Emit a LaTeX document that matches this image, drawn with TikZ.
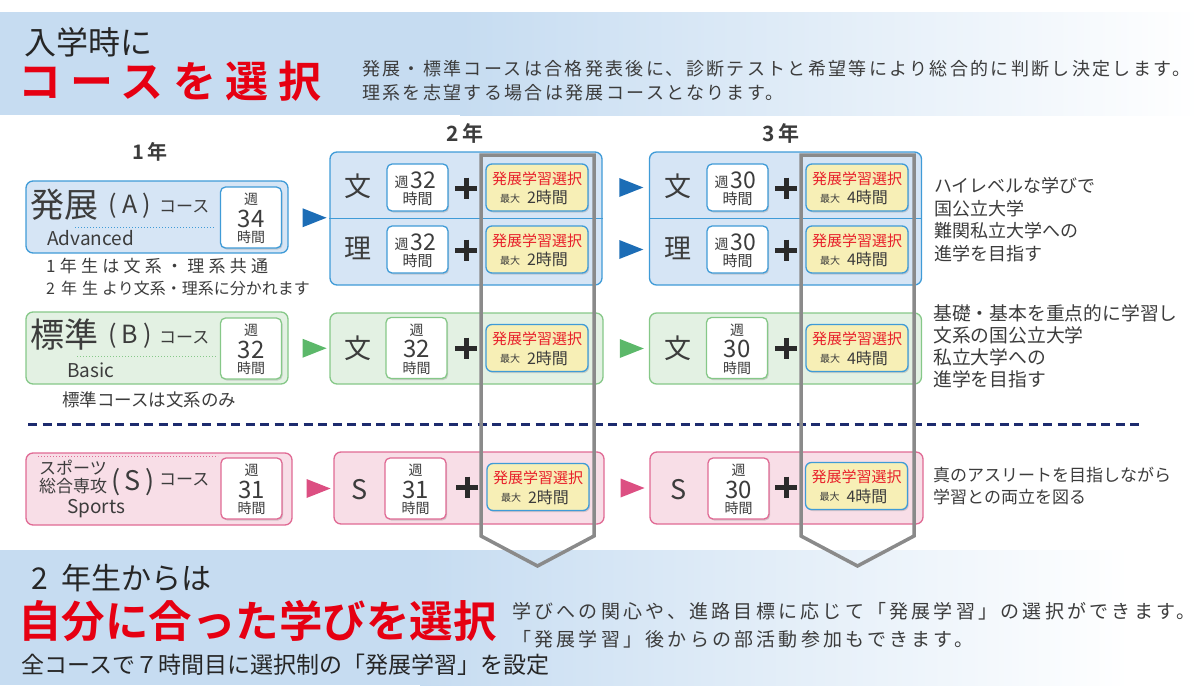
\documentclass[tikz,border=0pt]{standalone}
\usepackage{fontspec}
\setmainfont{Noto Sans CJK JP}[BoldFont={Noto Sans CJK JP Bold}]
\usetikzlibrary{shapes.geometric,shadows,calc}

\definecolor{bannerblue}{HTML}{C6DCF1}
\definecolor{titlered}{HTML}{E60012}
\definecolor{selred}{HTML}{E8202A}
\definecolor{ink}{HTML}{3C3C3C}
\definecolor{fillA}{HTML}{D6E5F5}
\definecolor{lineA}{HTML}{3F9BD7}
\definecolor{fillB}{HTML}{E3F1E3}
\definecolor{lineB}{HTML}{86C888}
\definecolor{fillS}{HTML}{F8DEE7}
\definecolor{lineS}{HTML}{E06A94}
\definecolor{arrA}{HTML}{1C6DB6}
\definecolor{arrB}{HTML}{5CB86A}
\definecolor{arrS}{HTML}{DC4F82}
\definecolor{selfill}{HTML}{F7EFB6}
\definecolor{navy}{HTML}{1D2B6E}
\definecolor{frame}{HTML}{8A8A8A}
\definecolor{plusink}{HTML}{2A2A2A}

\newcommand\fsz[1]{\fontsize{#1}{#1}\selectfont}

% week box, stacked: name, x, y, hours, border colour
\newcommand\weekstack[5]{%
  \node[weekbox, draw=#5, minimum height=61pt] (#1) at (#2,#3) {};
  \node[txt, font=\fsz{14}] (#1-w) at (#2,#3-18) {週};
  \node[txt, font=\fsz{24}] (#1-n) at (#2,#3+1) {#4};
  \node[txt, font=\fsz{14}] (#1-h) at (#2,#3+20) {時間};
}
% week box, one line: name, x, y, hours
\newcommand\weekline[4]{%
  \node[weekbox, draw=lineA, minimum height=47pt] (#1) at (#2,#3) {};
  \node[txt, font=\fsz{14}] (#1-w) at (#2-16,#3-5.5) {週};
  \node[txt, font=\fsz{23}] (#1-n) at (#2+5.5,#3-7) {#4};
  \node[txt, font=\fsz{15}] (#1-h) at (#2,#3+11) {時間};
}
% elective box: name, x, y, max hours
\newcommand\selbox[4]{%
  \node[selbox] (#1) at (#2,#3) {};
  \node[txt, font=\fsz{15}, text=selred] (#1-t) at (#2,#3-9) {発展学習選択};
  \node[txt, font=\fsz{10}] (#1-m) at (#2-27,#3+11) {最大};
  \node[txt, font=\fsz{16}] (#1-h) at (#2+10.5,#3+10) {#4時間};
}
% plus sign: x, y
\newcommand\plusmark[2]{%
  \draw[plus] (#1-11,#2) -- (#1+11,#2) (#1,#2-10.5) -- (#1,#2+10.5);
}

\begin{document}
\begin{tikzpicture}[x=1pt, y=-1pt,
    txt/.style={inner sep=0pt, text=ink},
    course/.style={rectangle, rounded corners=7pt, line width=1.3pt, inner sep=0pt},
    weekbox/.style={rectangle, rounded corners=5pt, line width=1.3pt, fill=white,
      minimum width=61pt, inner sep=0pt,
      drop shadow={shadow xshift=1.2pt, shadow yshift=-1.5pt, opacity=.3}},
    selbox/.style={rectangle, rounded corners=6pt, line width=1.3pt, fill=selfill, draw=lineA,
      minimum width=102pt, minimum height=47pt, inner sep=0pt,
      drop shadow={shadow xshift=1.2pt, shadow yshift=-1.5pt, opacity=.3}},
    tri/.style={isosceles triangle, isosceles triangle stretches, minimum width=19pt,
      minimum height=24pt, inner sep=0pt},
    plus/.style={line width=5pt, draw=plusink},
    bracket/.style={draw=frame, line width=3.5pt, line join=miter},
    dotline/.style={dotted, line width=1pt}]
  \useasboundingbox (0,0) rectangle (1200,691);

  % Top banner
  \fill[bannerblue] (0,12) rectangle (460,115);
  \shade[left color=bannerblue, right color=white] (460,12) rectangle (1200,115);
  \node[txt, anchor=west, font=\fsz{32}, text=black!85] (intro) at (24,42) {入学時に};
  \node[txt, anchor=west, font=\fsz{43}\bfseries\addfontfeature{LetterSpace=22}, text=titlered]
    (pick) at (18,81) {コースを選択};
  \node[txt, anchor=west, align=left, font=\fontsize{18}{24}\selectfont\addfontfeature{LetterSpace=13}]
    (note) at (362,81) {発展・標準コースは合格発表後に、診断テストと希望等により総合的に判断し決定します。\\
    理系を志望する場合は発展コースとなります。};

  % Year headings
  \node[txt, font=\fsz{20}\bfseries] (y1) at (150,152) {1\hspace{3pt}年};
  \node[txt, font=\fsz{21}\bfseries] (y2) at (465,133) {2\hspace{3pt}年};
  \node[txt, font=\fsz{21}\bfseries] (y3) at (781,133) {3\hspace{3pt}年};

  % Advanced course boxes
  \node[course, fill=fillA, draw=lineA, minimum width=262pt, minimum height=72pt] (a1) at (157,217) {};
  \node[course, fill=fillA, draw=lineA, minimum width=272pt, minimum height=133pt] (a2) at (466,218.5) {};
  \node[course, fill=fillA, draw=lineA, minimum width=272pt, minimum height=133pt] (a3) at (785.5,218.5) {};
  \draw[lineA, line width=1.2pt] (a2.west) -- (a2.east);
  \draw[lineA, line width=1.2pt] (a3.west) -- (a3.east);

  \node[txt, anchor=west, font=\fsz{34}] (a1-k) at (30,205) {発展};
  \node[txt, font=\fsz{25}] (a1-p) at (130,206) {(\hspace{5pt}A\hspace{5pt})};
  \node[txt, anchor=west, font=\fsz{17}] (a1-c) at (159,207) {コース};
  \draw[dotline, lineA] (75,227) -- (215,227);
  \node[txt, anchor=west, font=\fsz{19}] (a1-e) at (47,238) {Advanced};
  \weekstack{a1w}{251}{217.5}{34}{lineA}
  \node[txt, anchor=west, font=\fsz{17}\addfontfeature{LetterSpace=25}] (a1-n1) at (46,266) {1年生は文系・理系共通};
  \node[txt, anchor=west, font=\fsz{16}] (a1-n2) at (46,288) {2\hspace{6pt}年\hspace{5pt}生\hspace{4pt}より文系・理系に分かれます};

  \node[txt, font=\fsz{27}] (a2-b) at (358,186) {文};
  \weekline{a2bw}{417.5}{187.5}{32}
  \plusmark{466}{188}
  \selbox{a2bs}{537}{187.5}{2}
  \node[txt, font=\fsz{27}] (a2-s) at (358,248) {理};
  \weekline{a2sw}{417.5}{249.5}{32}
  \plusmark{466}{250}
  \selbox{a2ss}{537}{249.5}{2}

  \node[txt, font=\fsz{27}] (a3-b) at (678,186) {文};
  \weekline{a3bw}{737.5}{187.5}{30}
  \plusmark{786}{188}
  \selbox{a3bs}{857}{187.5}{4}
  \node[txt, font=\fsz{27}] (a3-s) at (678,248) {理};
  \weekline{a3sw}{737.5}{249.5}{30}
  \plusmark{786}{250}
  \selbox{a3ss}{857}{249.5}{4}

  \node[txt, anchor=west, align=left, font=\fontsize{18}{22.5}\selectfont] (a-goal) at (934,219.5)
    {ハイレベルな学びで\\国公立大学\\難関私立大学への\\進学を目指す};

  % Basic course boxes
  \node[course, fill=fillB, draw=lineB, minimum width=262pt, minimum height=72pt] (b1) at (157,348) {};
  \node[course, fill=fillB, draw=lineB, minimum width=273pt, minimum height=71pt] (b2) at (466.5,348.5) {};
  \node[course, fill=fillB, draw=lineB, minimum width=272pt, minimum height=71pt] (b3) at (785.5,348.5) {};

  \node[txt, anchor=west, font=\fsz{34}] (b1-k) at (30,335) {標準};
  \node[txt, font=\fsz{25}] (b1-p) at (130,336) {(\hspace{5pt}B\hspace{5pt})};
  \node[txt, anchor=west, font=\fsz{17}] (b1-c) at (159,338) {コース};
  \draw[dotline, lineB] (77,356) -- (217,356);
  \node[txt, anchor=west, font=\fsz{19}] (b1-e) at (67,370) {Basic};
  \weekstack{b1w}{251}{348.5}{32}{lineB}
  \node[txt, anchor=west, font=\fsz{17.5}] (b1-n) at (62,400) {標準コースは文系のみ};

  \node[txt, font=\fsz{27}] (b2-b) at (358,348) {文};
  \weekstack{b2w}{416.5}{348}{32}{lineB}
  \plusmark{466}{348}
  \selbox{b2s}{537}{348}{2}

  \node[txt, font=\fsz{27}] (b3-b) at (678,348) {文};
  \weekstack{b3w}{737}{348}{30}{lineB}
  \plusmark{786}{348}
  \selbox{b3s}{857}{348}{4}

  \node[txt, anchor=west, align=left, font=\fontsize{18.8}{22}\selectfont] (b-goal) at (933,346)
    {基礎・基本を重点的に学習し\\文系の国公立大学\\私立大学への\\進学を目指す};

  % Separator
  \draw[navy, line width=3pt, dash pattern=on 9pt off 5.5pt] (28,424) -- (1144,424);

  % Sports course boxes
  \node[course, fill=fillS, draw=lineS, minimum width=266pt, minimum height=72pt] (s1) at (159,489) {};
  \node[course, fill=fillS, draw=lineS, minimum width=270pt, minimum height=72pt] (s2) at (469,488) {};
  \node[course, fill=fillS, draw=lineS, minimum width=273pt, minimum height=72pt] (s3) at (786.5,488) {};

  \draw[dotline, lineS] (38,456) -- (218,456);
  \node[txt, anchor=west, font=\fsz{17}] (s1-k1) at (39,468) {スポーツ};
  \node[txt, anchor=west, font=\fsz{17}] (s1-k2) at (39,486) {総合専攻};
  \node[txt, font=\fsz{27}] (s1-p) at (133,482) {(\hspace{4pt}S\hspace{4pt})};
  \node[txt, anchor=west, font=\fsz{17}] (s1-c) at (159,480) {コース};
  \node[txt, anchor=west, font=\fsz{19}] (s1-e) at (67,509) {Sports};
  \weekstack{s1w}{251.5}{488.5}{31}{lineS}

  \node[txt, font=\fsz{27}] (s2-b) at (360,490) {S};
  \weekstack{s2w}{415.5}{488.5}{31}{lineS}
  \plusmark{467}{487}
  \selbox{s2s}{538}{487}{2}

  \node[txt, font=\fsz{27}] (s3-b) at (679,490) {S};
  \weekstack{s3w}{738.5}{488.5}{30}{lineS}
  \plusmark{786}{487}
  \selbox{s3s}{856.5}{486}{4}

  \node[txt, anchor=west, align=left, font=\fontsize{17}{22}\selectfont] (s-goal) at (933,486)
    {真のアスリートを目指しながら\\学習との両立を図る};

  % Arrows between years
  \node[tri, fill=arrA] (ta12) at ($(a1.east)!.5!(a2.west)$) {};
  \node[tri, fill=arrA] (ta23b) at ($(a2.east |- a2bw)!.5!(a3.west |- a2bw)$) {};
  \node[tri, fill=arrA] (ta23s) at ($(a2.east |- a2sw)!.5!(a3.west |- a2sw)$) {};
  \node[tri, fill=arrB] (tb12) at ($(b1.east)!.5!(b2.west)$) {};
  \node[tri, fill=arrB] (tb23) at ($(b2.east)!.5!(b3.west)$) {};
  \node[tri, fill=arrS] (ts12) at ($(s1.east)!.5!(s2.west)$) {};
  \node[tri, fill=arrS] (ts23) at ($(s2.east)!.5!(s3.west)$) {};

  % Bottom banner
  \fill[bannerblue] (0,550) rectangle (420,685);
  \shade[left color=bannerblue, right color=white] (420,550) rectangle (1130,685);
  \node[txt, anchor=west, font=\fsz{30}, text=black!85] (from2) at (31,578) {2\hspace{14pt}年生からは};
  \node[txt, anchor=west, font=\fsz{43.5}\bfseries, text=titlered] (own) at (18,621)
    {自分に合った学びを選択};
  \node[txt, anchor=west, align=left, font=\fontsize{19}{28}\selectfont\addfontfeature{LetterSpace=17}]
    (why) at (512,625) {学びへの関心や、進路目標に応じて「発展学習」の選択ができます。\\
    「発展学習」後からの部活動参加もできます。};
  \node[txt, anchor=west, font=\fsz{23}, text=black!85] (all) at (21,665) {全コースで７時間目に選択制の「発展学習」を設定};

  % Elective frames
  \draw[bracket] (481,155) -- (481,536) -- (537.5,566) -- (594,536) -- (594,155) -- cycle;
  \draw[bracket] (801,155) -- (801,536) -- (857.5,566) -- (914,536) -- (914,155) -- cycle;
\end{tikzpicture}
\end{document}
